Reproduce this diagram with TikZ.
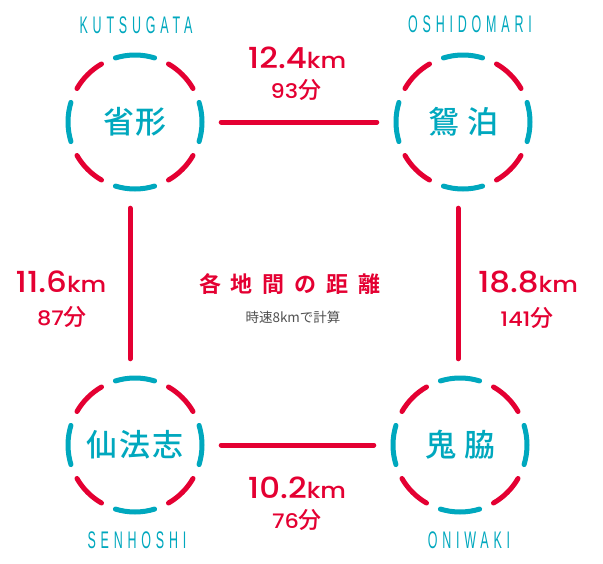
\documentclass[tikz,border=0pt]{standalone}
\usepackage{fontspec}
\usetikzlibrary{calc}
\newfontfamily\cjk{Noto Sans CJK JP}[UprightFont=* Medium, BoldFont=* Bold]
\newfontfamily\cjkr{Noto Sans CJK JP}
\newfontfamily\pop{Poppins}[UprightFont=* Medium, FakeStretch=1.12]
\newfontfamily\lab{Liberation Sans}[FakeStretch=0.52, LetterSpace=20]
\definecolor{redc}{RGB}{228,0,50}
\definecolor{cyanc}{RGB}{0,168,190}
\definecolor{grayc}{RGB}{80,80,80}
\tikzset{
  place/.style={circle, minimum size=172pt, inner sep=0pt, text=cyanc,
    font=\cjk\fontsize{31}{31}\selectfont},
  cyarc/.style={draw=cyanc, line width=5pt, line cap=round},
  rdarc/.style={draw=redc, line width=5pt, line cap=round},
  conn/.style={draw=redc, line width=5pt, line cap=round},
  roman/.style={text=cyanc, font=\lab\fontsize{24}{24}\selectfont, inner sep=0pt},
  km/.style={text=redc, anchor=base, inner sep=0pt},
  mins/.style={text=redc, anchor=base, inner sep=0pt},
}
\newcommand{\kmtext}[1]{{\pop\fontsize{29}{29}\selectfont #1\fontsize{22}{22}\selectfont km}}
\newcommand{\mintext}[1]{{\pop\fontsize{20}{20}\selectfont #1\cjk\fontsize{23}{23}\selectfont 分}}
\newcommand{\ring}[1]{%
  \foreach \a in {0,90,180,270}
    \draw[cyarc] ($(#1)+(\a-17:67)$) arc[start angle=\a-17, end angle=\a+17, radius=67];
  \foreach \a in {45,135,225,315}
    \draw[rdarc] ($(#1)+(\a-15:67)$) arc[start angle=\a-15, end angle=\a+15, radius=67];
}
\begin{document}
\begin{tikzpicture}[x=1pt,y=-1pt]
\useasboundingbox (0,0) rectangle (603,563);
\fill[white] (0,0) rectangle (603,563);

% places
\node[place] (k) at (135,122) {省\hspace{2pt}形};
\node[place] (o) at (463,122) {鴛\hspace{8pt}泊};
\node[place] (s) at (135,445) {仙\hspace{2pt}法\hspace{2pt}志};
\node[place] (n) at (460,445) {鬼\hspace{8pt}脇};
\ring{k}\ring{o}\ring{s}\ring{n}

% romanised names
\node[roman] (kl) at (136,25) {KUTSUGATA};
\node[roman] (ol) at (470,24) {OSHIDOMARI};
\node[roman] (sl) at (137,540) {SENHOSHI};
\node[roman] (nl) at (469,540) {ONIWAKI};

% connectors
\draw[conn] (k.east) -- (o.west);
\draw[conn] ([xshift=-5pt]k.south) -- ([xshift=-5pt]s.north);
\draw[conn] ([xshift=-5pt]o.south) -- ([xshift=-2pt]n.north);
\draw[conn] (s.east) -- (n.west);

% distances
\node[km] (d1) at (297,68) {\kmtext{12.4}};
\node[mins] (m1) at (296,98) {\mintext{93}};
\node[km] (d2) at (61,292) {\kmtext{11.6}};
\node[mins] (m2) at (62,325) {\mintext{87}};
\node[km] (d3) at (528,292) {\kmtext{18.8}};
\node[mins] (m3) at (527,326) {\mintext{141}};
\node[km] (d4) at (297,498) {\kmtext{10.2}};
\node[mins] (m4) at (297,528) {\mintext{76}};

% title
\node[text=redc, anchor=base, inner sep=0pt, font=\cjk\bfseries\fontsize{22}{22}\selectfont] (t) at (290,292)
  {各\hspace{10pt}地\hspace{10pt}間\hspace{10pt}の\hspace{10pt}距\hspace{10pt}離};
\node[text=grayc, anchor=base, inner sep=0pt, font=\cjkr\fontsize{13.5}{13.5}\selectfont] (st) at (293,322)
  {時速8kmで計算};
\end{tikzpicture}
\end{document}
